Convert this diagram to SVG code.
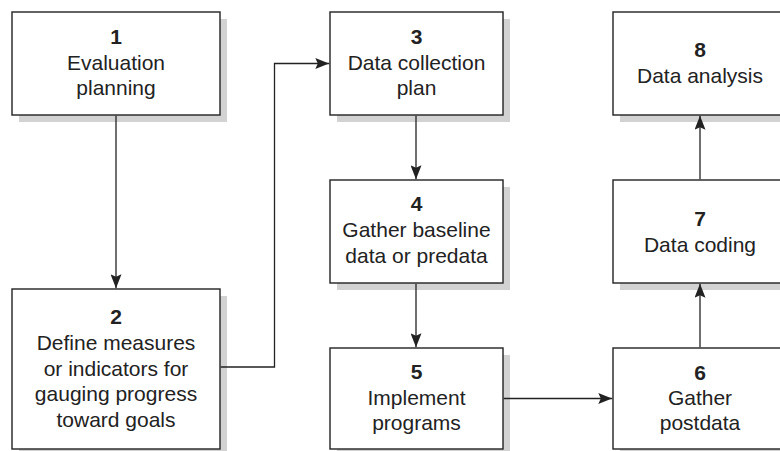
<svg xmlns="http://www.w3.org/2000/svg" width="780" height="451" viewBox="0 0 780 451">
<style>
.sh{fill:#d2d2d2;stroke:none}
.bx{fill:#fff;stroke:#222;stroke-width:1.4}
text{font-family:"Liberation Sans",Arial,Helvetica,sans-serif;font-size:21px;fill:#222;text-anchor:middle}
.n{font-weight:bold}
.c{fill:none;stroke:#222;stroke-width:1.3;marker-end:url(#ah)}
</style>
<defs>
<marker id="ah" markerUnits="userSpaceOnUse" viewBox="0 0 14 11" refX="14" refY="5.5" markerWidth="14" markerHeight="11" orient="auto">
<path d="M0,0 L14,5.5 L0,11 L2.5,5.5 Z" fill="#222"/>
</marker>
</defs>
<rect width="780" height="451" fill="#fff"/>
<g id="node1">
<rect class="sh" x="19" y="19" width="208" height="103"/>
<rect class="bx" x="12" y="12" width="208" height="103"/>
<text class="n" x="116" y="44">1</text>
<text x="116" y="70">Evaluation</text>
<text x="116" y="95">planning</text>
</g>
<g id="node2">
<rect class="sh" x="19" y="296" width="208" height="160"/>
<rect class="bx" x="12" y="289" width="208" height="160"/>
<text class="n" x="116" y="324">2</text>
<text x="116" y="350">Define measures</text>
<text x="116" y="375.5">or indicators for</text>
<text x="116" y="401">gauging progress</text>
<text x="116" y="426.5">toward goals</text>
</g>
<g id="node3">
<rect class="sh" x="337" y="19" width="173" height="103"/>
<rect class="bx" x="330" y="12" width="173" height="103"/>
<text class="n" x="416.5" y="44">3</text>
<text x="416.5" y="70">Data collection</text>
<text x="416.5" y="95">plan</text>
</g>
<g id="node4">
<rect class="sh" x="337" y="187" width="173" height="103"/>
<rect class="bx" x="330" y="180" width="173" height="103"/>
<text class="n" x="416.5" y="211">4</text>
<text x="416.5" y="237">Gather baseline</text>
<text x="416.5" y="262.5">data or predata</text>
</g>
<g id="node5">
<rect class="sh" x="337" y="355" width="173" height="101"/>
<rect class="bx" x="330" y="348" width="173" height="101"/>
<text class="n" x="416.5" y="379">5</text>
<text x="416.5" y="404.5">Implement</text>
<text x="416.5" y="430">programs</text>
</g>
<g id="node6">
<rect class="sh" x="620" y="355" width="174" height="101"/>
<rect class="bx" x="613" y="348" width="174" height="101"/>
<text class="n" x="700" y="380">6</text>
<text x="700" y="405">Gather</text>
<text x="700" y="430">postdata</text>
</g>
<g id="node7">
<rect class="sh" x="620" y="187" width="174" height="103"/>
<rect class="bx" x="613" y="180" width="174" height="103"/>
<text class="n" x="700" y="225.5">7</text>
<text x="700" y="251.5">Data coding</text>
</g>
<g id="node8">
<rect class="sh" x="620" y="19" width="174" height="103"/>
<rect class="bx" x="613" y="12" width="174" height="103"/>
<text class="n" x="700" y="57">8</text>
<text x="700" y="83">Data analysis</text>
</g>
<g id="connectors">
<path class="c" d="M116,115.7 V288.3"/>
<path class="c" d="M220.7,367 H274.5 V63.5 H329.3"/>
<path class="c" d="M416,115.7 V179.3"/>
<path class="c" d="M416,283.7 V347.3"/>
<path class="c" d="M503.7,398.5 H612.3"/>
<path class="c" d="M700,347.3 V283.7"/>
<path class="c" d="M700,179.3 V115.7"/>
</g>
</svg>
